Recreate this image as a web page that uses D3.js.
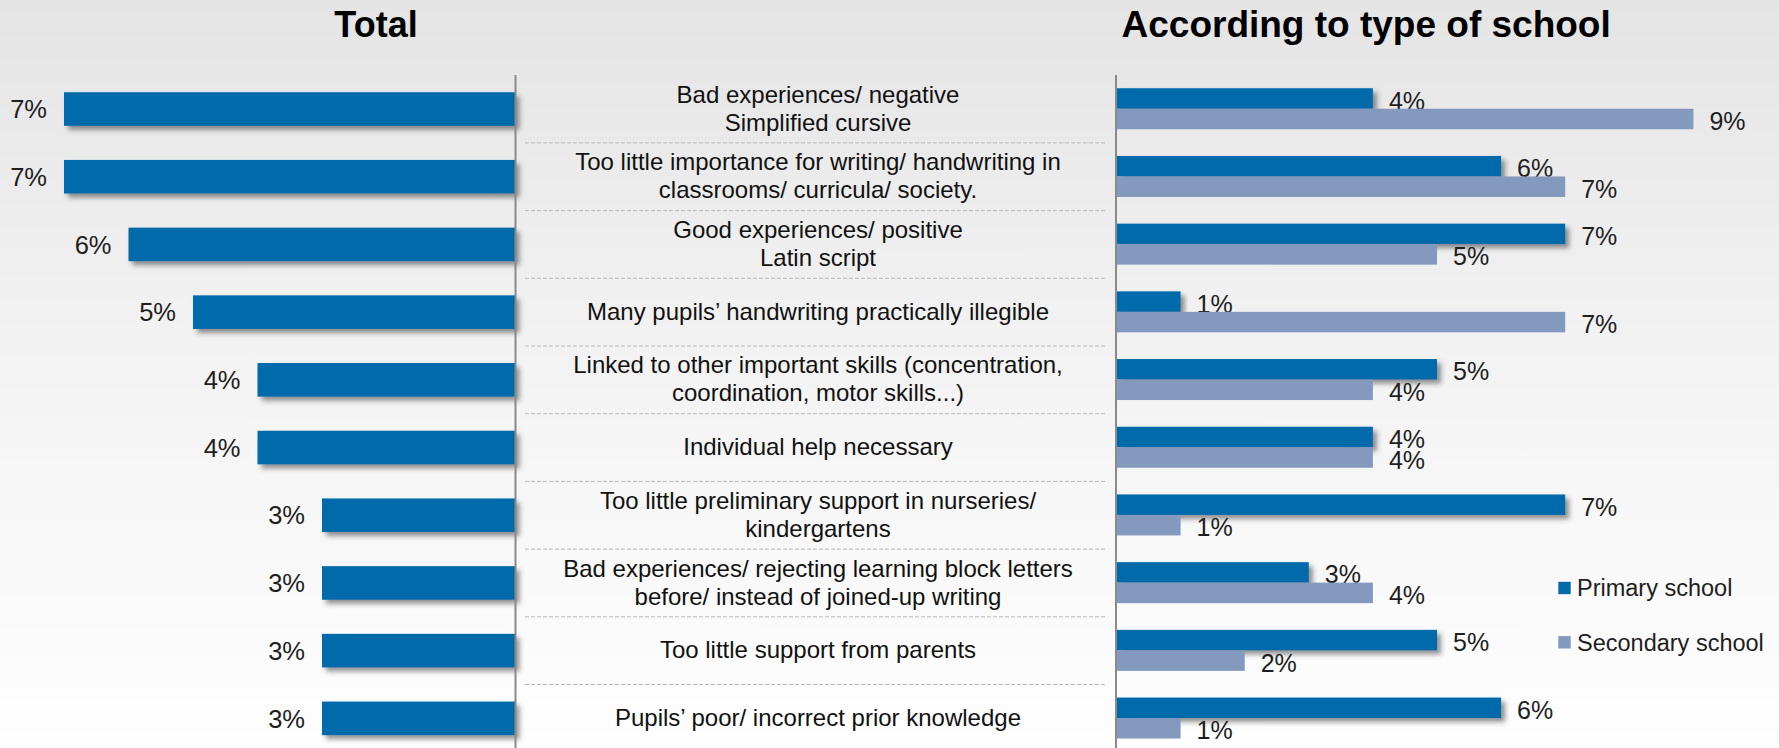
<!DOCTYPE html>
<html><head><meta charset="utf-8">
<script src="https://cdn.jsdelivr.net/npm/d3@7"></script>
<style>html,body{margin:0;padding:0;overflow:hidden;background:#fff;} svg{display:block;}</style>
</head><body><svg id="chart" width="1779" height="748"></svg>
<script>
// ---- data ----
const categories = [
  "Bad experiences/ negative\nSimplified cursive",
  "Too little importance for writing/ handwriting in\nclassrooms/ curricula/ society.",
  "Good experiences/ positive\nLatin script",
  "Many pupils\u2019 handwriting practically illegible",
  "Linked to other important skills (concentration,\ncoordination, motor skills...)",
  "Individual help necessary",
  "Too little preliminary support in nurseries/\nkindergartens",
  "Bad experiences/ rejecting learning block letters\nbefore/ instead of joined-up writing",
  "Too little support from parents",
  "Pupils\u2019 poor/ incorrect prior knowledge"
];
const totalValues = [7, 7, 6, 5, 4, 4, 3, 3, 3, 3];
const seriesNames = ["Primary school", "Secondary school"];
const primaryValues = [4, 6, 7, 1, 5, 4, 7, 3, 5, 6];
const secondaryValues = [9, 7, 5, 7, 4, 4, 1, 4, 2, 1];
const panelTitles = ["Total", "According to type of school"];

// ---- setup ----
const W = 1779, H = 748;
const FONT = "'Liberation Sans', Arial, Helvetica, sans-serif";
const C_PRIMARY = "#046BAA", C_SECONDARY = "#8499BE";
const fmt = d => d + "%";

const svg = d3.select("#chart");
const defs = svg.append("defs");
const grad = defs.append("linearGradient").attr("id", "bg").attr("x1", 0).attr("y1", 0).attr("x2", 0).attr("y2", 1);
grad.append("stop").attr("offset", "0%").attr("stop-color", "#e4e4e4");
grad.append("stop").attr("offset", "45%").attr("stop-color", "#f2f2f2");
grad.append("stop").attr("offset", "100%").attr("stop-color", "#fefefe");
const sh = defs.append("filter").attr("id", "shadow").attr("x", "-5%").attr("y", "-30%").attr("width", "115%").attr("height", "180%");
sh.append("feDropShadow").attr("dx", 4).attr("dy", 4).attr("stdDeviation", 2.5)
  .attr("flood-color", "#3a3a3a").attr("flood-opacity", 0.55);

svg.append("rect").attr("width", W).attr("height", H).attr("fill", "url(#bg)");

const rows = categories.map((c, i) => ({
  cat: c, total: totalValues[i], primary: primaryValues[i], secondary: secondaryValues[i]
}));

const y = d3.scaleBand().domain(categories).range([75.2, 752.2]).padding(0);
const yc = c => y(c) + y.bandwidth() / 2;

const leftAxisX = 515.5, rightAxisX = 1116.5;
const xL = d3.scaleLinear().domain([0, 7]).range([leftAxisX, 64]);
const xR = d3.scaleLinear().domain([0, 9]).range([rightAxisX, rightAxisX + 9 * 64.1]);
const ySub = d3.scaleBand().domain(seriesNames).range([-20.8, 20.2]).padding(0);

// ---- titles ----
svg.append("text").attr("x", 376).attr("y", 37).attr("text-anchor", "middle")
  .attr("font-family", FONT).attr("font-weight", "bold").attr("font-size", 36)
  .attr("fill", "#000").text(panelTitles[0]);
svg.append("text").attr("x", 1121.5).attr("y", 37).attr("text-anchor", "start")
  .attr("font-family", FONT).attr("font-weight", "bold").attr("font-size", 37)
  .attr("fill", "#000").text(panelTitles[1]);

// ---- separators in the middle ----
svg.append("g").selectAll("line").data(categories.slice(1)).join("line")
  .attr("x1", 525).attr("x2", 1106)
  .attr("y1", d => y(d)).attr("y2", d => y(d))
  .attr("stroke", "#b8b8b8").attr("stroke-width", 1).attr("stroke-dasharray", "4,2");

// ---- left panel bars ----
const gL = svg.append("g");
gL.selectAll("rect").data(rows).join("rect")
  .attr("x", d => xL(d.total)).attr("width", d => xL(0) - xL(d.total))
  .attr("y", d => yc(d.cat) - 16.8).attr("height", 33.6)
  .attr("fill", C_PRIMARY).attr("filter", "url(#shadow)");
gL.selectAll("text").data(rows).join("text")
  .attr("x", d => xL(d.total) - 17).attr("y", d => yc(d.cat)).attr("dy", "0.36em")
  .attr("text-anchor", "end").attr("font-family", FONT).attr("font-size", 25.5)
  .attr("fill", "#1e1e1e").text(d => fmt(d.total));

// ---- middle labels ----
const gM = svg.append("g");
rows.forEach(d => {
  const lines = d.cat.split("\n");
  const t = gM.append("text").attr("text-anchor", "middle")
    .attr("font-family", FONT).attr("font-size", 24).attr("fill", "#111");
  const n = lines.length, lh = 28;
  lines.forEach((ln, j) => {
    t.append("tspan").attr("x", 818)
      .attr("y", yc(d.cat) + (j - (n - 1) / 2) * lh - 1)
      .attr("dy", "0.36em").text(ln);
  });
});

// ---- right panel ----
const gR = svg.append("g");
// primary bars & labels first, secondary drawn after (overlaps as in original)
gR.append("g").selectAll("rect").data(rows).join("rect")
  .attr("x", xR(0)).attr("width", d => xR(d.primary) - xR(0))
  .attr("y", d => yc(d.cat) + ySub(seriesNames[0])).attr("height", ySub.bandwidth())
  .attr("fill", C_PRIMARY).attr("filter", "url(#shadow)");
gR.append("g").selectAll("text").data(rows).join("text")
  .attr("x", d => xR(d.primary) + 16)
  .attr("y", d => yc(d.cat) + ySub(seriesNames[0]) + ySub.bandwidth() / 2 + 2).attr("dy", "0.36em")
  .attr("font-family", FONT).attr("font-size", 25).attr("fill", "#1e1e1e")
  .text(d => fmt(d.primary));
gR.append("g").selectAll("rect").data(rows).join("rect")
  .attr("x", xR(0)).attr("width", d => xR(d.secondary) - xR(0))
  .attr("y", d => yc(d.cat) + ySub(seriesNames[1])).attr("height", ySub.bandwidth())
  .attr("fill", C_SECONDARY);
gR.append("g").selectAll("text").data(rows).join("text")
  .attr("x", d => xR(d.secondary) + 16)
  .attr("y", d => yc(d.cat) + ySub(seriesNames[1]) + ySub.bandwidth() / 2 + 2).attr("dy", "0.36em")
  .attr("font-family", FONT).attr("font-size", 25).attr("fill", "#1e1e1e")
  .text(d => fmt(d.secondary));

// ---- axis lines ----
svg.append("line").attr("x1", leftAxisX).attr("x2", leftAxisX).attr("y1", 75).attr("y2", H)
  .attr("stroke", "#8a8a8a").attr("stroke-width", 2);
svg.append("line").attr("x1", rightAxisX - 0.5).attr("x2", rightAxisX - 0.5).attr("y1", 75).attr("y2", H)
  .attr("stroke", "#8a8a8a").attr("stroke-width", 2);

// ---- legend ----
const legColor = d3.scaleOrdinal().domain(seriesNames).range([C_PRIMARY, C_SECONDARY]);
const leg = svg.append("g");
const legY = d3.scalePoint().domain(seriesNames).range([588, 642.3]);
seriesNames.forEach(s => {
  leg.append("rect").attr("x", 1558.3).attr("y", legY(s) - 6.2).attr("width", 12.4).attr("height", 12.4)
    .attr("fill", legColor(s));
  leg.append("text").attr("x", 1577).attr("y", legY(s)).attr("dy", "0.36em")
    .attr("font-family", FONT).attr("font-size", 23.5).attr("fill", "#1e1e1e").text(s);
});
</script>
</body></html>
